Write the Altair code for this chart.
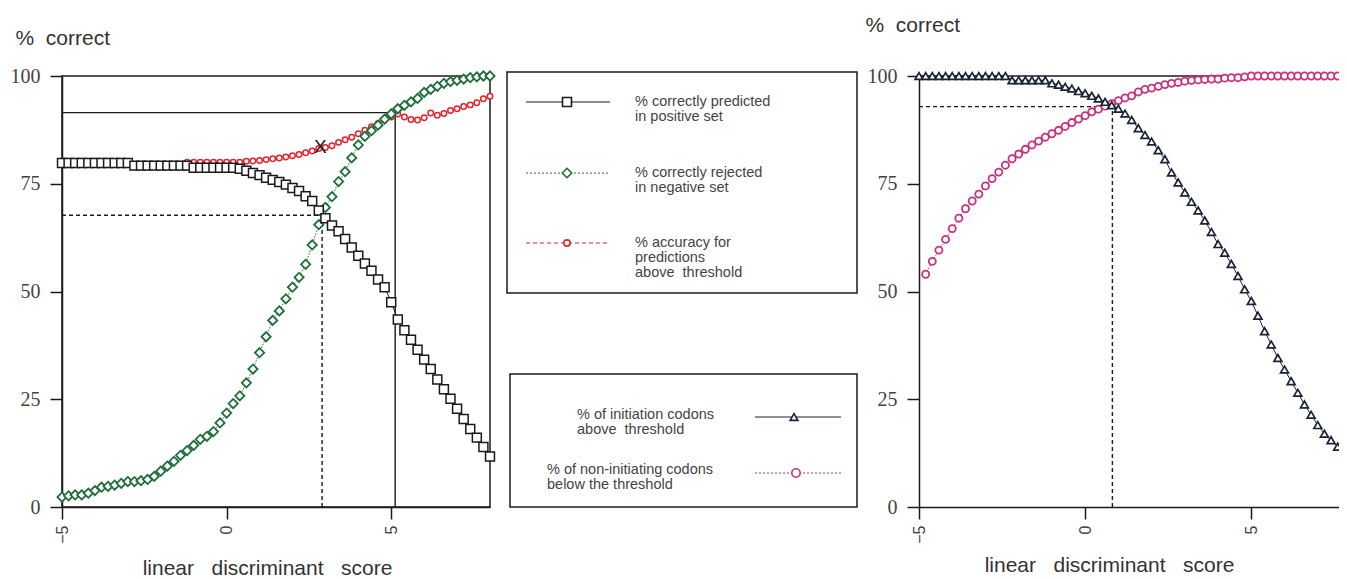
import altair as alt
import pandas as pd

SANS = "Liberation Sans"
SERIF = "Liberation Serif"

# ---------------- data: left panel ----------------
x_left = [-5.0, -4.8, -4.6, -4.4, -4.2, -4.0, -3.8, -3.6, -3.4, -3.2,
          -3.0, -2.8, -2.6, -2.4, -2.2, -2.0, -1.8, -1.6, -1.4, -1.2,
          -1.0, -0.8, -0.6, -0.4, -0.2, 0.0, 0.2, 0.4, 0.6, 0.8,
          1.0, 1.2, 1.4, 1.6, 1.8, 2.0, 2.2, 2.4, 2.6, 2.8,
          3.0, 3.2, 3.4, 3.6, 3.8, 4.0, 4.2, 4.4, 4.6, 4.8,
          5.0, 5.2, 5.4, 5.6, 5.8, 6.0, 6.2, 6.4, 6.6, 6.8,
          7.0, 7.2, 7.4, 7.6, 7.8, 8.0]

pos_correct = [79.8, 79.8, 79.8, 79.8, 79.8, 79.8, 79.8, 79.8, 79.8, 79.8,
               79.8, 79.2, 79.2, 79.2, 79.2, 79.2, 79.2, 79.2, 79.2, 79.2,
               78.7, 78.7, 78.7, 78.7, 78.7, 78.7, 78.7, 78.5, 78.0, 77.5,
               77.0, 76.4, 75.9, 75.4, 74.8, 74.0, 73.3, 72.1, 71.0, 68.8,
               67.0, 65.3, 64.0, 62.2, 60.2, 58.3, 56.5, 54.8, 52.8, 51.0,
               47.5, 43.5, 41.0, 38.8, 36.5, 34.2, 32.0, 29.6, 27.3, 25.1,
               22.8, 20.4, 18.1, 16.1, 13.9, 11.7]

neg_rejected = [2.3, 2.6, 2.8, 2.8, 3.2, 3.8, 4.6, 4.8, 5.1, 5.5,
                5.9, 5.9, 6.1, 6.4, 7.1, 8.3, 9.5, 10.6, 12.0, 13.1,
                14.3, 15.7, 16.4, 17.5, 19.5, 21.8, 24.0, 25.8, 28.8, 32.0,
                35.8, 39.5, 43.3, 45.5, 48.3, 51.0, 53.3, 56.3, 60.8, 65.5,
                69.5, 72.0, 75.5, 77.8, 81.0, 84.0, 86.0, 87.3, 88.6, 90.0,
                91.2, 92.4, 93.2, 94.0, 94.8, 96.2, 96.9, 97.6, 98.3, 98.7,
                99.0, 99.3, 99.6, 99.8, 100.0, 100.0]

x_accuracy = x_left[19:]
accuracy = [80.0, 80.0, 80.0, 80.0, 80.0, 80.0, 80.0, 80.0, 80.0, 80.2,
            80.3, 80.4, 80.6, 80.8, 81.0, 81.2, 81.5, 81.8, 82.2, 82.6,
            83.2, 83.4, 83.8, 84.6, 85.2, 85.8, 86.6, 87.4, 88.2, 89.0,
            89.8, 90.5, 91.2, 90.5, 89.9, 89.8, 90.3, 91.4, 90.9, 91.3,
            92.0, 92.4, 92.9, 93.3, 93.8, 94.7, 95.3]

cross_x = [2.85]
cross_y = [83.5]

left_thr_solid = [5.12, 91.5]   # threshold, level
left_thr_dashed = [2.9, 67.7]

# ---------------- data: right panel ----------------
x_right = x_left[:65]
init_above = [100, 100, 100, 100, 100, 100, 100, 100, 100, 100,
              100, 100, 100, 100, 99.0, 99.0, 99.0, 99.0, 99.0, 99.0,
              98.3, 98.0, 97.5, 97.1, 96.5, 96.0, 95.4, 94.8, 94.0, 93.2,
              92.4, 91.3, 89.8, 87.9, 86.3, 84.8, 82.8, 80.7, 77.6, 75.3,
              73.0, 70.8, 68.8, 66.5, 63.8, 61.0, 59.0, 56.4, 53.6, 50.5,
              47.8, 44.4, 40.8, 37.7, 34.6, 31.9, 29.2, 26.5, 23.8, 21.4,
              19.0, 17.0, 15.5, 14.0, 12.0]

x_noninit = x_right[1:]
noninit_below = [54.0, 57.0, 59.6, 62.1, 64.6, 67.0, 69.2, 71.0, 72.6, 74.5,
                 76.2, 77.7, 79.3, 80.8, 81.9, 83.0, 84.0, 84.9, 85.8, 86.6,
                 87.4, 88.3, 89.2, 90.0, 90.8, 91.7, 92.3, 93.0, 93.6, 94.3,
                 94.9, 95.4, 96.3, 96.9, 97.2, 97.6, 98.0, 98.3, 98.5, 98.8,
                 99.0, 99.1, 99.2, 99.3, 99.3, 99.5, 99.6, 99.6, 99.8, 100.0,
                 100, 100, 100, 100, 100, 100, 100, 100, 100, 100,
                 100, 100, 100, 100]

right_thr_dashed = [0.82, 92.9]

y_ticks = [0, 25, 50, 75, 100]
x_ticks = [-5, 0, 5]

legend1_labels = ["% correctly predicted\nin positive set",
                  "% correctly rejected\nin negative set",
                  "% accuracy for\npredictions\nabove\u00a0 threshold"]
legend2_labels = ["% of initiation codons\nabove\u00a0 threshold",
                  "% of non-initiating codons\nbelow the threshold"]

y_title = "%\u00a0 correct"
x_title = "linear\u00a0\u00a0 discriminant\u00a0\u00a0 score"

# ---------------- styles ----------------
C_BLACK = "#1a1a1a"
C_GREEN = "#1f6e3a"
C_RED = "#e8222b"
C_NAVY = "#1a2238"
C_MAG = "#cc2f7e"
TXT = "#333333"


def make_axes(xmin, xmax, ytx, yty, xtx, xty):
    ax_y = alt.Axis(values=y_ticks, title=y_title, titleAngle=0, titleAlign="left",
                    titleBaseline="middle", titleX=ytx, titleY=yty, titleFont=SANS,
                    titleFontSize=21, titleFontWeight="normal", titleColor=TXT,
                    labelFont=SERIF, labelFontSize=20, labelColor="#444444",
                    labelPadding=10, tickSize=12, tickColor=C_BLACK, tickWidth=1.5,
                    domainColor=C_BLACK, domainWidth=1.5, grid=False)
    ax_x = alt.Axis(values=x_ticks, title=x_title, titleAngle=0, titleAlign="center",
                    titleBaseline="middle", titleX=xtx, titleY=xty, titleFont=SANS,
                    titleFontSize=21, titleFontWeight="normal", titleColor=TXT,
                    labelFont=SANS, labelFontSize=16, labelColor="#444444",
                    labelAngle=270, labelPadding=6, labelFlush=False,
                    tickSize=12, tickColor=C_BLACK, tickWidth=1.5,
                    domainColor=C_BLACK, domainWidth=1.5, grid=False)
    xs = alt.Scale(domain=[xmin, xmax], nice=False, zero=False)
    ys = alt.Scale(domain=[0, 100], nice=False, zero=False)
    return xs, ys, ax_x, ax_y


def series(xv, yv, color, shape, size, sw, dash=None):
    df = pd.DataFrame({"x": xv, "y": yv})
    lkw = dict(color=color, strokeWidth=1)
    if dash:
        lkw["strokeDash"] = dash
    line = alt.Chart(df).mark_line(**lkw).encode(x="x:Q", y="y:Q")
    pts = alt.Chart(df).mark_point(shape=shape, size=size, filled=True, fill="white",
                                   stroke=color, strokeWidth=sw, opacity=1).encode(
        x="x:Q", y="y:Q")
    return [line, pts]


def thresh_rules(thr, xmin, dash=None):
    t, lvl = thr
    df = pd.DataFrame({"x": [xmin, t], "x2": [t, t], "y": [lvl, 0], "y2": [lvl, lvl]})
    kw = dict(color=C_BLACK, strokeWidth=1.4)
    if dash:
        kw["strokeDash"] = dash
    return alt.Chart(df).mark_rule(**kw).encode(x="x:Q", x2="x2:Q", y="y:Q", y2="y2:Q")


# ---------------- left panel ----------------
xs, ys, ax_x, ax_y = make_axes(-5, 8, -47, -38, 205, 61)
anchor_l = alt.Chart(pd.DataFrame({"x": x_left, "y": pos_correct})).mark_point(
    opacity=0).encode(x=alt.X("x:Q", scale=xs, axis=ax_x), y=alt.Y("y:Q", scale=ys, axis=ax_y))

cross = alt.Chart(pd.DataFrame({"x": cross_x, "y": cross_y})).mark_text(
    text="X", font=SANS, fontSize=19, color=C_BLACK, baseline="middle").encode(x="x:Q", y="y:Q")

left = alt.layer(
    anchor_l,
    thresh_rules(left_thr_solid, -5),
    thresh_rules(left_thr_dashed, -5, dash=[4, 3]),
    *series(x_accuracy, accuracy, C_RED, "circle", 30, 1.5, dash=[4, 3]),
    *series(x_left, neg_rejected, C_GREEN, "diamond", 85, 1.8, dash=[1.5, 1.5]),
    *series(x_left, pos_correct, C_BLACK, "square", 80, 1.5),
    cross,
).properties(width=428, height=431,
             view=alt.ViewBackground(stroke=C_BLACK, strokeWidth=1.5))

# ---------------- right panel ----------------
xs2, ys2, ax_x2, ax_y2 = make_axes(-5, 7.85, -54, -51, 190, 58)
anchor_r = alt.Chart(pd.DataFrame({"x": x_right, "y": init_above})).mark_point(
    opacity=0).encode(x=alt.X("x:Q", scale=xs2, axis=ax_x2), y=alt.Y("y:Q", scale=ys2, axis=ax_y2))
top_line = alt.Chart(pd.DataFrame({"y": [100]})).mark_rule(
    color=C_BLACK, strokeWidth=1.4).encode(y="y:Q")

right = alt.layer(
    anchor_r,
    top_line,
    thresh_rules(right_thr_dashed, -5, dash=[4, 3]),
    *series(x_noninit, noninit_below, C_MAG, "circle", 50, 1.8, dash=[1.5, 1.5]),
    *series(x_right, init_above, C_NAVY, "triangle-up", 62, 1.7),
).properties(width=427, height=431, view=alt.ViewBackground(strokeWidth=0))

# ---------------- middle: legend boxes ----------------
one = alt.Data(values=[{}])


def box(x0, x1, y0, y1):
    return alt.Chart(one).mark_rect(fill="white", stroke=C_BLACK, strokeWidth=1.5).encode(
        x=alt.value(x0), x2=alt.value(x1), y=alt.value(y0), y2=alt.value(y1))


def entry(label, color, shape, size, dash, lx0, lx1, mx, sy, tx, ty):
    lkw = dict(color=color, strokeWidth=1.2)
    if dash:
        lkw["strokeDash"] = dash
    ln = alt.Chart(one).mark_rule(**lkw).encode(
        x=alt.value(lx0), x2=alt.value(lx1), y=alt.value(sy))
    pt = alt.Chart(one).mark_point(shape=shape, size=size, filled=True, fill="white",
                                   stroke=color, strokeWidth=1.6, opacity=1).encode(
        x=alt.value(mx), y=alt.value(sy))
    tx_ = alt.Chart(one).mark_text(text=label, align="left", baseline="top", lineBreak="\n",
                                   lineHeight=15, font=SANS, fontSize=14.5, color="#444444").encode(
        x=alt.value(tx), y=alt.value(ty))
    return [ln, pt, tx_]


middle = alt.layer(
    box(0, 350, -4, 217),
    *entry(legend1_labels[0], C_BLACK, "square", 80, None, 19, 103, 60, 26, 128, 19),
    *entry(legend1_labels[1], C_GREEN, "diamond", 90, [2, 2], 19, 103, 60, 97, 128, 90),
    *entry(legend1_labels[2], C_RED, "circle", 40, [4, 3], 19, 103, 60, 167, 128, 160),
    box(3, 350, 298, 431),
    *entry(legend2_labels[0], C_NAVY, "triangle-up", 60, None, 248, 334, 287, 341, 70, 332),
    *entry(legend2_labels[1], C_MAG, "circle", 70, [2, 2], 248, 334, 289, 397, 40, 387),
).properties(width=395, height=431, view=alt.ViewBackground(strokeWidth=0))

# Fixed-size canvas: 1331 x 571 px (fits the 1347 x 579 window with the 8px page margin)
chart = alt.hconcat(left, middle, right, spacing=17, bounds="flush").properties(
    autosize=alt.AutoSizeParams(type="none"),
    padding={"left": 54, "top": 68, "right": 1277, "bottom": 503},
    background="white",
)

chart.save("out.html", embed_options={"renderer": "svg", "actions": False})
